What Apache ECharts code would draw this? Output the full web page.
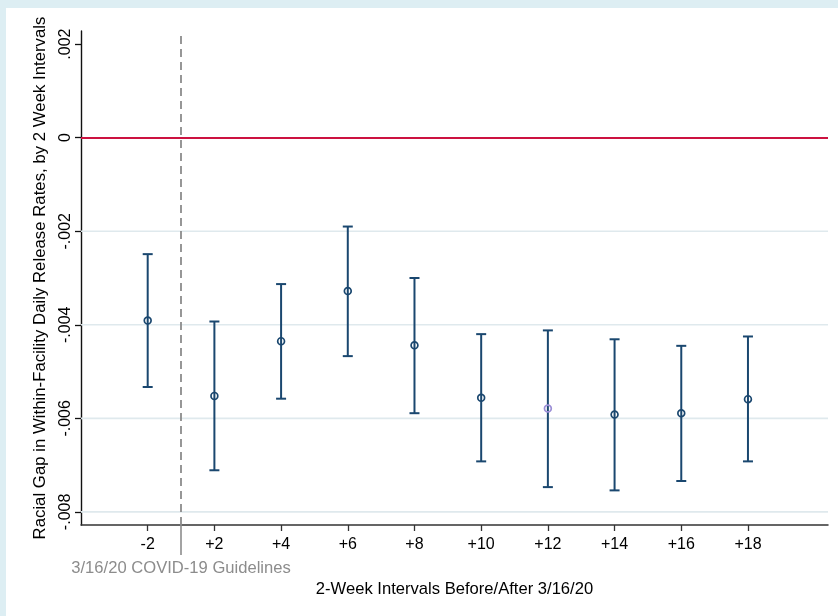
<!DOCTYPE html>
<html>
<head>
<meta charset="utf-8">
<script src="https://cdn.jsdelivr.net/npm/echarts@6/dist/echarts.min.js"></script>
<style>
  html, body { margin: 0; padding: 0; background: #ddeef3; }
  #chart { width: 838px; height: 616px; }
</style>
</head>
<body>
<div id="chart"></div>
<script>
// Two-week intervals relative to 3/16/20 (one slot per interval)
const intervalLabels = ['-2', '+2', '+4', '+6', '+8', '+10', '+12', '+14', '+16', '+18'];
// Point estimates and 95% confidence bounds
const estimates = [-0.00391, -0.00552, -0.00435, -0.00328, -0.00444, -0.00556, -0.00579, -0.00592, -0.00589, -0.00559];
const upperBounds = [-0.00249, -0.00393, -0.00313, -0.00190, -0.00300, -0.00420, -0.00412, -0.00431, -0.00445, -0.00425];
const lowerBounds = [-0.00533, -0.00711, -0.00558, -0.00467, -0.00589, -0.00692, -0.00747, -0.00754, -0.00734, -0.00692];
// Y tick values and their printed labels
const yTickValues = [-0.008, -0.006, -0.004, -0.002, 0, 0.002];
const yTickLabels = ['-.008', '-.006', '-.004', '-.002', '0', '.002'];
const gridValues = [-0.008, -0.006, -0.004, -0.002];
// Policy date sits halfway between the first two intervals
const policyPosition = 0.5;
const policyLabel = '3/16/20 COVID-19 Guidelines';
const highlightedIndex = 6;

const FONT = '"Liberation Sans", Arial, Helvetica, sans-serif';
const NAVY = '#1a476f';

const chart = echarts.init(document.getElementById('chart'));

const points = intervalLabels.map((_, i) => [i, estimates[i], lowerBounds[i], upperBounds[i]]);

function renderInterval(params, api) {
  const x = api.value(0);
  const mid = api.coord([x, api.value(1)]);
  const lo = api.coord([x, api.value(2)]);
  const hi = api.coord([x, api.value(3)]);
  const cap = 5;
  const lineStyle = { stroke: NAVY, lineWidth: 2 };
  const markerColor = params.dataIndex === highlightedIndex ? '#9b8ed6' : NAVY;
  return {
    type: 'group',
    children: [
      { type: 'line', shape: { x1: hi[0], y1: hi[1], x2: lo[0], y2: lo[1] }, style: lineStyle },
      { type: 'line', shape: { x1: hi[0] - cap, y1: hi[1], x2: hi[0] + cap, y2: hi[1] }, style: lineStyle },
      { type: 'line', shape: { x1: lo[0] - cap, y1: lo[1], x2: lo[0] + cap, y2: lo[1] }, style: lineStyle },
      { type: 'circle', shape: { cx: mid[0], cy: mid[1], r: 3.4 }, style: { fill: 'none', stroke: markerColor, lineWidth: 1.7 } }
    ]
  };
}

// Light horizontal grid drawn as its own layer under the data
function renderGrid(params, api) {
  const start = api.coord([-1, api.value(0)]);
  const end = api.coord([10.2, api.value(0)]);
  return {
    type: 'line',
    shape: { x1: start[0], y1: start[1], x2: end[0], y2: end[1] },
    style: { stroke: '#dfe9ed', lineWidth: 1.6 }
  };
}

const option = {
  backgroundColor: '#ddeef3',
  animation: false,
  graphic: [
    { type: 'rect', z: -10, silent: true, shape: { x: 6, y: 8, width: 840, height: 620 }, style: { fill: '#ffffff' } }
  ],
  grid: { left: 81, top: 31, right: 10, bottom: 91, containLabel: false },
  xAxis: [
    {
      type: 'value',
      min: -1,
      max: 10.2,
      name: '2-Week Intervals Before/After 3/16/20',
      nameLocation: 'middle',
      nameGap: 56,
      nameTextStyle: { fontFamily: FONT, fontSize: 16.6, color: '#000' },
      axisLine: { show: true, onZero: false, lineStyle: { color: '#333', width: 1.5 } },
      axisTick: { show: true, length: 6, customValues: intervalLabels.map((_, i) => i), lineStyle: { color: '#333', width: 1.3 } },
      axisLabel: {
        customValues: intervalLabels.map((_, i) => i),
        formatter: v => intervalLabels[Math.round(v)] || '',
        fontFamily: FONT, fontSize: 16, color: '#000', margin: 12
      },
      splitLine: { show: false }
    },
    {
      type: 'value',
      min: -1,
      max: 10.2,
      position: 'bottom',
      axisLine: { show: false, onZero: false },
      axisTick: { show: true, length: 30, customValues: [policyPosition], lineStyle: { color: '#8c8c8c', width: 1.6 } },
      axisLabel: {
        customValues: [policyPosition],
        formatter: () => policyLabel,
        fontFamily: FONT, fontSize: 16.6, color: '#8c8c8c', margin: 35
      },
      splitLine: { show: false }
    }
  ],
  yAxis: {
    type: 'value',
    min: -0.00828,
    max: 0.00228,
    name: 'Racial Gap in Within-Facility Daily Release Rates, by 2 Week Intervals',
    nameLocation: 'middle',
    nameRotate: 90,
    nameGap: 32,
    nameTextStyle: { fontFamily: FONT, fontSize: 16.8, color: '#000' },
    axisLine: { show: true, onZero: false, lineStyle: { color: '#111', width: 1.4 } },
    axisTick: { show: true, length: 6, customValues: yTickValues, lineStyle: { color: '#111', width: 1.3 } },
    axisLabel: {
      customValues: yTickValues,
      rotate: 90,
      formatter: v => {
        const i = yTickValues.findIndex(t => Math.abs(t - v) < 1e-9);
        return i >= 0 ? yTickLabels[i] : '';
      },
      fontFamily: FONT, fontSize: 16, color: '#000', margin: 7
    },
    splitLine: { show: false }
  },
  series: [
    {
      type: 'custom',
      renderItem: renderGrid,
      encode: { y: 0 },
      data: gridValues.map(v => [v]),
      silent: true,
      z: 1
    },
    {
      type: 'custom',
      renderItem: renderInterval,
      encode: { x: 0, y: [1, 2, 3] },
      data: points,
      z: 5,
      markLine: {
        symbol: 'none',
        silent: true,
        label: { show: false },
        data: [
          { yAxis: 0, lineStyle: { color: '#cc1240', width: 2, type: 'solid' } },
          { xAxis: policyPosition, lineStyle: { color: '#8c8c8c', width: 1.8, type: [8, 5] } }
        ]
      }
    }
  ]
};

chart.setOption(option);
</script>
</body>
</html>
